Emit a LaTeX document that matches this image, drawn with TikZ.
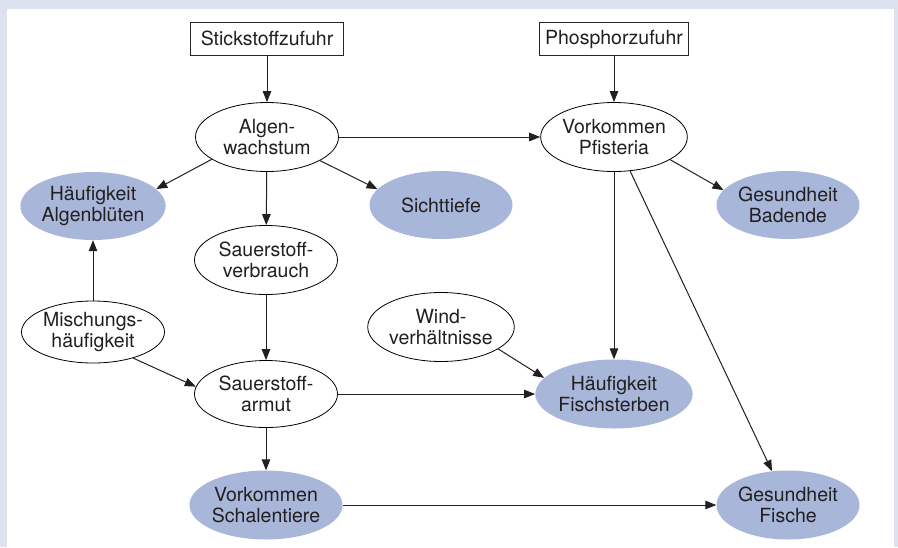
\documentclass[tikz,border=0pt]{standalone}
\usepackage{fontspec}
\setmainfont{TeX Gyre Heros}
\usetikzlibrary{shapes.geometric,arrows.meta}

\definecolor{framegray}{HTML}{DDE3EE}
\definecolor{effblue}{HTML}{A8B6DA}
\definecolor{txtgray}{HTML}{231F20}

\tikzset{   factor/.style={draw=black,ellipse,fill=white,minimum width=143pt,minimum height=69pt,inner sep=0pt,line width=0.8pt,align=center,text=txtgray,font=\fontsize{19.5}{20.5}\selectfont},
            effect/.style={ellipse,fill=effblue,minimum width=143pt,minimum height=68pt,inner sep=0pt,align=center,text=txtgray,font=\fontsize{19.5}{20.5}\selectfont},
            input/.style={draw=black!85,rectangle,fill=white,minimum height=33pt,inner sep=0pt,line width=0.9pt,text=txtgray,font=\fontsize{19.5}{20.5}\selectfont},
            arr/.style={-{Triangle[length=11pt,width=8.5pt]},line width=1pt,draw=txtgray},
}

\begin{document}
\begin{tikzpicture}[x=1pt,y=-1pt]
    \fill[framegray] (0,0) rectangle (898,547); % frame
    \fill[white] (7,9) rectangle (894,547);
    \useasboundingbox (0,0) rectangle (898,547);

    \node[input,minimum width=153pt] (stick) at (267,38.5) {Stickstoffzufuhr}; % inputs
    \node[input,minimum width=149pt] (phos) at (614,39) {Phosphorzufuhr};

    \node[factor] (algen) at (267,137) {Algen-\\wachstum}; % white ellipses
    \node[factor] (pfist) at (614,137) {Vorkommen\\Pfisteria};
    \node[factor] (verbr) at (266,260) {Sauerstoff-\\verbrauch};
    \node[factor,minimum height=62pt] (misch) at (93,332) {Mischungs-\\häufigkeit};
    \node[factor] (wind) at (441,327) {Wind-\\verhältnisse};
    \node[factor,minimum height=67pt] (armut) at (266,394) {Sauerstoff-\\armut};

    \node[effect] (bluet) at (93,206) {Häufigkeit\\Algenblüten}; % blue ellipses
    \node[effect] (sicht) at (441,205) {Sichttiefe};
    \node[effect] (baden) at (788,205) {Gesundheit\\Badende};
    \node[effect,minimum height=69pt] (sterb) at (614,394) {Häufigkeit\\Fischsterben};
    \node[effect,minimum height=69pt] (schal) at (266,505) {Vorkommen\\Schalentiere};
    \node[effect,minimum height=69pt] (fisch) at (788,505) {Gesundheit\\Fische};

    \draw[arr] (stick) -- (algen); % arrows
    \draw[arr] (phos) -- (pfist);
    \draw[arr] (algen) -- (pfist);
    \draw[arr] (algen.202) -- (bluet.15);
    \draw[arr] (algen) -- (verbr);
    \draw[arr] (algen.-24) -- (sicht.166);
    \draw[arr] (pfist.-22) -- (baden.167);
    \draw[arr] (pfist) -- (sterb);
    \draw[arr] (pfist) -- (fisch);
    \draw[arr] (misch) -- (bluet);
    \draw[arr] (misch.-33) -- (armut.174);
    \draw[arr] (verbr) -- (armut);
    \draw[arr] (wind.-21) -- (sterb.167);
    \draw[arr] (armut) -- (sterb);
    \draw[arr] (armut) -- (schal);
    \draw[arr] (schal) -- (fisch);
\end{tikzpicture}
\end{document}
